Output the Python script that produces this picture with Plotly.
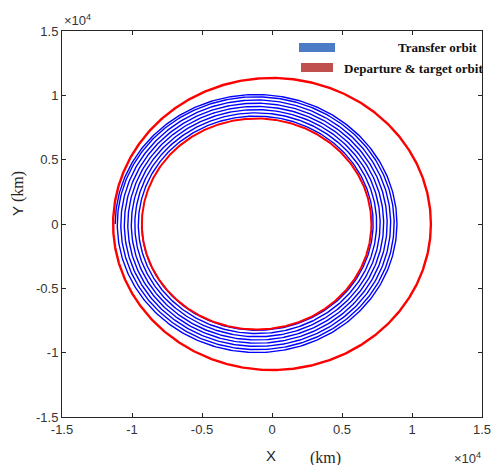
import numpy as np
import plotly.graph_objects as go

# ---- data (km) ----
# Transfer orbit: radius at the start of each revolution (spiral), centre offset
transfer_rev_radii = [8200, 8450, 8700, 8950, 9200, 9450, 9700, 9950, 10100]
transfer_center = [-1100, 0]
# Departure orbit (inner) and target orbit (outer)
departure_radius = 8200
departure_center = [-1100, 0]
target_radius = 11350
target_center = [0, 0]

tick_vals = [-15000, -10000, -5000, 0, 5000, 10000, 15000]
tick_text = ["-1.5", "-1", "-0.5", "0", "0.5", "1", "1.5"]

# ---- build paths ----
def spiral(radii, center, phase=np.pi, npts=400):
    xs, ys = [], []
    for k in range(len(radii) - 1):
        th = np.linspace(0, 2 * np.pi, npts, endpoint=(k == len(radii) - 2))
        r = radii[k] + (radii[k + 1] - radii[k]) * th / (2 * np.pi)
        xs.extend(center[0] + r * np.cos(th + phase))
        ys.extend(center[1] + r * np.sin(th + phase))
    return xs, ys

def circle(r, center, npts=600):
    th = np.linspace(0, 2 * np.pi, npts)
    return center[0] + r * np.cos(th), center[1] + r * np.sin(th)

fig = go.Figure()
tx, ty = spiral(transfer_rev_radii, transfer_center)
fig.add_trace(go.Scatter(x=tx, y=ty, mode="lines", line=dict(color="#0000ff", width=1.4),
                         showlegend=False, hoverinfo="skip"))
dx, dy = circle(departure_radius, departure_center)
fig.add_trace(go.Scatter(x=dx, y=dy, mode="lines", line=dict(color="#ff0000", width=2),
                         showlegend=False, hoverinfo="skip"))
ox, oy = circle(target_radius, target_center)
fig.add_trace(go.Scatter(x=ox, y=oy, mode="lines", line=dict(color="#ff0000", width=2.4),
                         showlegend=False, hoverinfo="skip"))

L, R, T, B = 62, 482, 31, 417
W, H = 492, 465

def px(x):
    return (x - L) / (R - L)

def py(y):
    return (B - y) / (B - T)

axis_common = dict(showgrid=False, zeroline=False, showline=True, linecolor="#262626",
                   linewidth=1, mirror="ticks", ticks="inside", ticklen=4,
                   tickcolor="#262626", tickvals=tick_vals, ticktext=tick_text,
                   tickfont=dict(family="Liberation Sans, Arial", size=13, color="#333333"),
                   range=[-15000, 15000], automargin=False)

fig.update_layout(
    width=W, height=H,
    margin=dict(l=L, r=W - R, t=T, b=H - B),
    paper_bgcolor="white", plot_bgcolor="white",
    xaxis=dict(**axis_common),
    yaxis=dict(**axis_common),
    showlegend=False,
)

sans = "Liberation Sans, Arial"
serif = "Liberation Serif, Times New Roman"
ann = []
# x10^4 multipliers
ann.append(dict(x=px(62), y=py(20), xref="paper", yref="paper", xanchor="left", yanchor="middle",
                text="×10<sup>4</sup>", showarrow=False,
                font=dict(family=sans, size=13, color="#333333")))
ann.append(dict(x=px(452), y=py(458), xref="paper", yref="paper", xanchor="left", yanchor="middle",
                text="×10<sup>4</sup>", showarrow=False,
                font=dict(family=sans, size=13, color="#333333")))
# axis labels
ann.append(dict(x=px(271), y=py(456), xref="paper", yref="paper", xanchor="center", yanchor="middle",
                text="X", showarrow=False, font=dict(family=sans, size=15, color="#262626")))
ann.append(dict(x=px(325), y=py(458), xref="paper", yref="paper", xanchor="center", yanchor="middle",
                text="(km)", showarrow=False, font=dict(family=serif, size=16, color="#262626")))
ann.append(dict(x=px(18), y=py(194), xref="paper", yref="paper", xanchor="center", yanchor="middle",
                textangle=-90,
                text="Y <span style=\"font-family:'Liberation Serif'; font-size:16px\">(km)</span>",
                showarrow=False, font=dict(family=sans, size=15, color="#262626")))
# legend text
ann.append(dict(x=px(479), y=py(47), xref="paper", yref="paper", xanchor="right", yanchor="middle",
                text="<b>Transfer orbit</b>", showarrow=False,
                font=dict(family=serif, size=13, color="#111111")))
ann.append(dict(x=px(485), y=py(68), xref="paper", yref="paper", xanchor="right", yanchor="middle",
                text="<b>Departure &amp; target orbit</b>", showarrow=False,
                font=dict(family=serif, size=13, color="#111111")))
fig.update_layout(annotations=ann)

fig.add_shape(type="rect", xref="paper", yref="paper", x0=px(299), x1=px(335), y0=py(52), y1=py(43),
              fillcolor="#4a7bc4", line=dict(width=0))
fig.add_shape(type="rect", xref="paper", yref="paper", x0=px(301), x1=px(333), y0=py(72), y1=py(63),
              fillcolor="#c0504d", line=dict(width=0))

fig.write_html("out.html")
